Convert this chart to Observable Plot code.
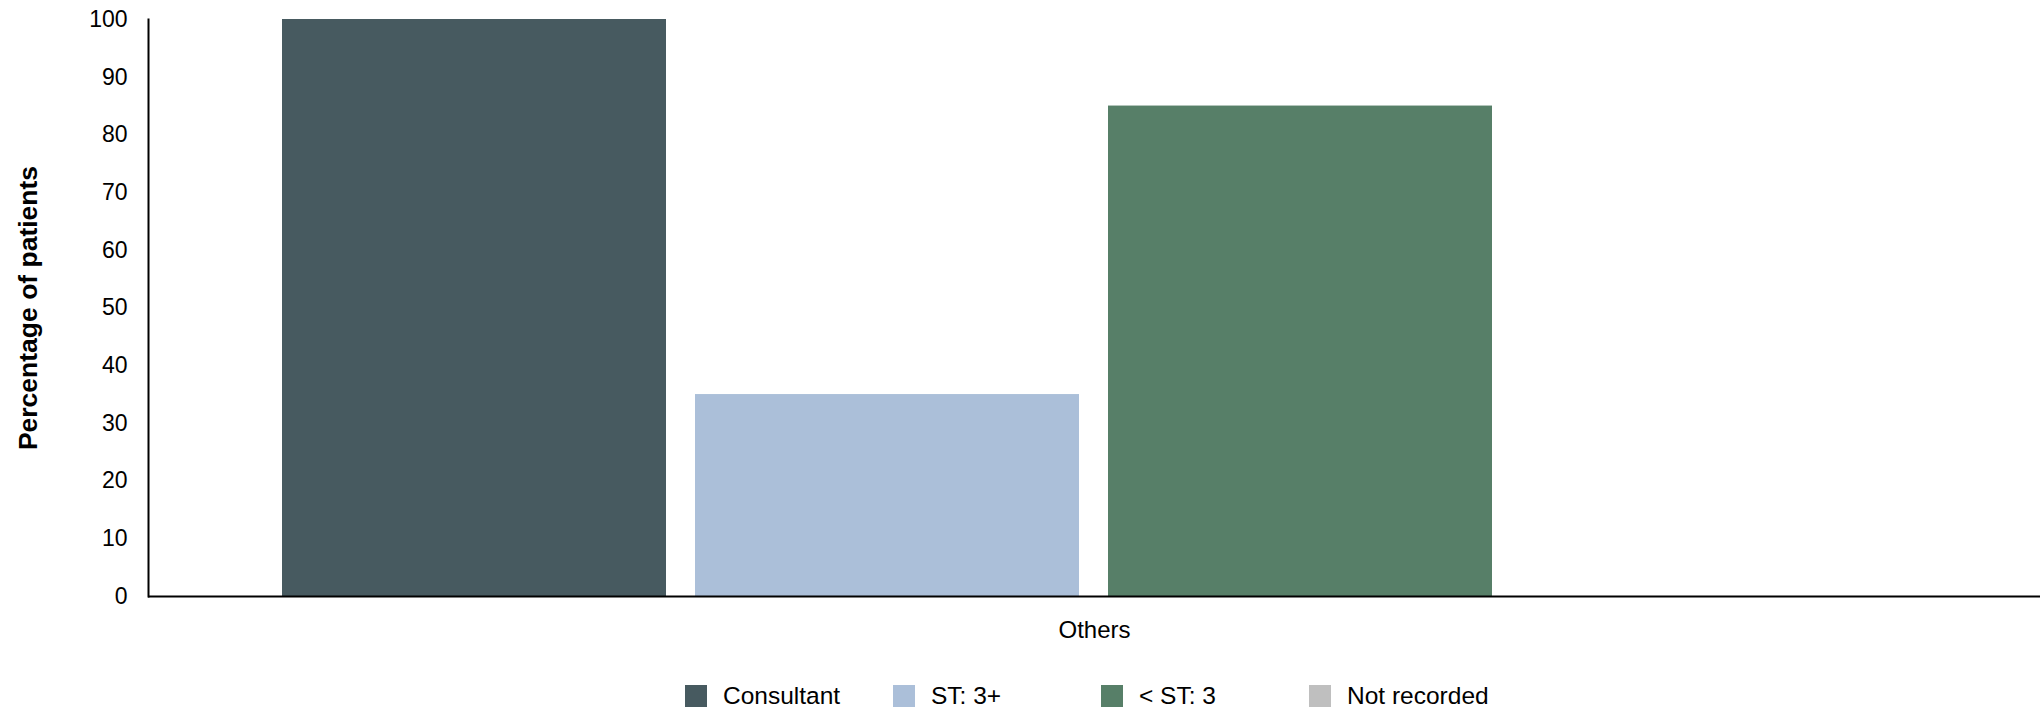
<!DOCTYPE html>
<html>
<head>
<meta charset="utf-8">
<script src="https://cdn.jsdelivr.net/npm/d3@7"></script>
<script src="https://cdn.jsdelivr.net/npm/@observablehq/plot@0.6"></script>
<style>
  body { margin: 0; background: #fff; font-family: "Liberation Sans", Arial, sans-serif; }
  #legend { display: flex; align-items: center; padding-left: 685px; padding-top: 21px; height: 30px; font-size: 24.5px; color: #000; }
  #legend .item { display: flex; align-items: center; width: 208px; }
  #legend .item:last-child { width: auto; }
  #legend .sw { width: 22px; height: 22px; margin-right: 16px; flex: none; }
</style>
</head>
<body>
<div id="chart"></div>
<div id="legend"></div>
<script>
const categories = ["Others"];
const series = ["Consultant", "ST: 3+", "< ST: 3", "Not recorded"];
const values = [100, 35, 85, 0];
const colors = ["#475a60", "#abbfd9", "#577f68", "#bfbfbf"];
const yTicks = [0, 10, 20, 30, 40, 50, 60, 70, 80, 90, 100];

const data = series.map((s, i) => ({category: categories[0], series: s, value: values[i]}));

const chart = Plot.plot({
  width: 2040,
  height: 660,
  marginTop: 19,
  marginBottom: 64,
  marginLeft: 148,
  marginRight: 0,
  style: {fontFamily: '"Liberation Sans", Arial, sans-serif', fontSize: "23px", color: "#000", background: "#fff"},
  x: {domain: series, paddingInner: 0.07, paddingOuter: 0.3255, axis: null},
  y: {domain: [0, 100], ticks: yTicks},
  color: {domain: series, range: colors},
  marks: [
    Plot.barY(data, {x: "series", y: "value", fill: "series"}),
    Plot.axisY({ticks: yTicks, tickSize: 0, tickPadding: 21, fontSize: 23,
      label: "Percentage of patients", labelAnchor: "center", labelArrow: "none", labelOffset: 130}),
    Plot.frame({anchor: "left", stroke: "#000", strokeWidth: 2}),
    Plot.ruleY([0], {stroke: "#000", strokeWidth: 2}),
    Plot.text(categories, {text: d => d, frameAnchor: "bottom", dy: 41, fontSize: 24, fill: "#000"})
  ]
});
chart.querySelectorAll("[aria-label='y-axis label'] text, g[aria-label='y-axis label']").forEach(el => {
  el.setAttribute("font-weight", "bold");
  el.setAttribute("font-size", "26.5px");
});
document.getElementById("chart").appendChild(chart);

const legend = document.getElementById("legend");
series.forEach((s, i) => {
  const item = document.createElement("div");
  item.className = "item";
  const sw = document.createElement("span");
  sw.className = "sw";
  sw.style.background = colors[i];
  const t = document.createElement("span");
  t.textContent = s;
  item.appendChild(sw);
  item.appendChild(t);
  legend.appendChild(item);
});
</script>
</body>
</html>
